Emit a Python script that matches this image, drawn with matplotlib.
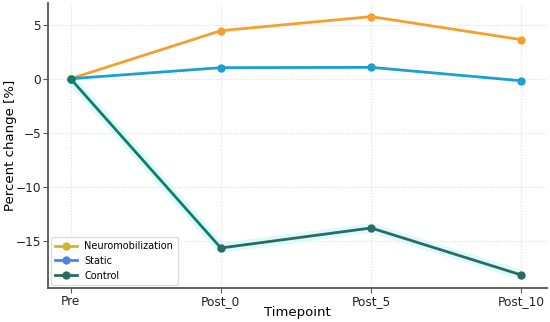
import matplotlib
matplotlib.use("Agg")
import matplotlib.pyplot as plt
from matplotlib.lines import Line2D

timepoints = ["Pre", "Post_0", "Post_5", "Post_10"]
neuromobilization = [0.0, 4.44, 5.74, 3.61]
static = [0.0, 1.02, 1.05, -0.19]
control = [0.0, -15.65, -13.8, -18.15]

fig = plt.figure(figsize=(5.5, 3.22), dpi=100)
ax = fig.add_axes([48/550, 1 - 288/322, (547-48)/550, (288-3)/322])

x = list(range(len(timepoints)))
ax.plot(x, control, color="#dcfafa", lw=7, solid_capstyle="butt", zorder=1)
ax.plot(x, neuromobilization, color="#f4a02e", lw=2, marker="o", ms=5, zorder=3)
ax.plot(x, static, color="#1aa0d2", lw=2, marker="o", ms=5, zorder=3)
ax.plot(x[:2], control[:2], color="#0d7f66", lw=2, zorder=2)
ax.plot(x[1:], control[1:], color="#2c6a63", lw=2, marker="o", ms=5, zorder=3)
ax.plot(x[:1], control[:1], color="#0d7f66", lw=0, marker="o", ms=5, zorder=4)

ax.set_xticks(x)
ax.set_xticklabels(timepoints)
ax.set_xlim(-0.15, 3.17)
ax.set_ylim(-19.35, 7.0)
ax.set_yticks([-15, -10, -5, 0, 5])
ax.tick_params(axis="both", labelsize=8.7, colors="#222222", length=3.5, pad=1.5,
               color="#555555")
ax.set_xlabel("Timepoint", fontsize=9.5)
ax.set_ylabel("Percent change [%]", fontsize=9.5)
ax.yaxis.set_label_coords(-0.062, 0.5)
ax.xaxis.set_label_coords(0.5, -0.062)
ax.grid(True, linestyle=":", color="#dddddd", lw=0.8)
ax.set_axisbelow(True)
for s in ["top", "right"]:
    ax.spines[s].set_visible(False)
for s in ["left", "bottom"]:
    ax.spines[s].set_color("#555555")
    ax.spines[s].set_linewidth(1.3)

handles = [
    Line2D([], [], color="#d4b42a", lw=2, marker="o", ms=5, label="Neuromobilization"),
    Line2D([], [], color="#4a85e0", lw=2, marker="o", ms=5, label="Static"),
    Line2D([], [], color="#2d6a65", lw=2, marker="o", ms=5, label="Control"),
]
ax.legend(handles=handles, loc="lower left", fontsize=7.0, framealpha=1,
          edgecolor="#dddddd", borderaxespad=0.3, handlelength=2.2,
          labelspacing=0.5, borderpad=0.45)

fig.savefig("out.png", dpi=100)
